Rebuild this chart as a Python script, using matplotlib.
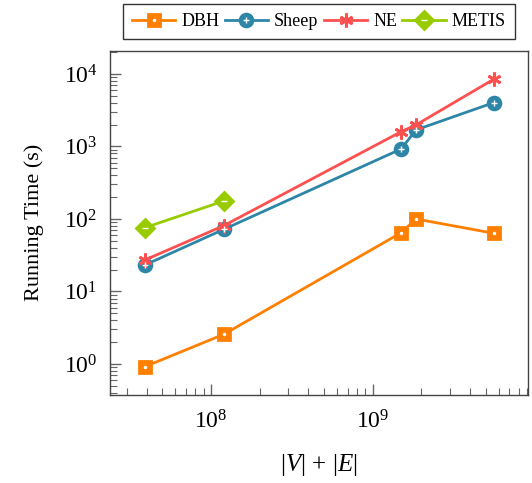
import matplotlib
matplotlib.use("Agg")
import matplotlib.pyplot as plt
from matplotlib.legend_handler import HandlerTuple

plt.rcParams['font.family'] = ['Liberation Serif', 'DejaVu Serif']
plt.rcParams['mathtext.fontset'] = 'custom'
plt.rcParams['mathtext.rm'] = 'Liberation Serif'
plt.rcParams['mathtext.it'] = 'Liberation Serif:italic'
plt.rcParams['mathtext.bf'] = 'Liberation Serif:bold'

# Data
dbh_x = [3.9e7, 1.2e8, 1.5e9, 1.85e9, 5.6e9]
dbh_y = [0.92, 2.57, 64.7, 100, 63.5]
sheep_x = [3.9e7, 1.2e8, 1.5e9, 1.85e9, 5.6e9]
sheep_y = [23.2, 72, 924, 1690, 4020]
ne_x = [3.9e7, 1.2e8, 1.5e9, 1.85e9, 5.6e9]
ne_y = [27.2, 81, 1600, 1980, 8450]
metis_x = [3.9e7, 1.2e8]
metis_y = [75.9, 177]

labels = ['DBH', 'Sheep', 'NE', 'METIS']
colors = ['#ff8000', '#2e86a6', '#ff5050', '#99cc00']

fig = plt.figure(figsize=(5.32, 4.83), dpi=100)
ax = fig.add_axes([110/532, 1-395/483, (528-110)/532, (395-50.7)/483])

series = [(dbh_x, dbh_y, 's', 8.5, '.', 3),
          (sheep_x, sheep_y, 'o', 9, '+', 5),
          (ne_x, ne_y, (6, 2, 0), 10, None, 0),
          (metis_x, metis_y, 'D', 9, '_', 5)]

handles = []
for (x, y, m, ms, im, ims), c, lab in zip(series, colors, labels):
    ln, = ax.plot(x, y, color=c, lw=2, marker=m, markersize=ms,
                  markeredgewidth=2 if m != 'o' else 2.2,
                  markerfacecolor=c if m != (6, 2, 0) else 'none',
                  markeredgecolor=c, zorder=3)
    if im is not None:
        ov, = ax.plot(x, y, ls='none', marker=im, markersize=ims,
                      color='white', markeredgewidth=1, zorder=4)
        handles.append((ln, ov))
    else:
        handles.append(ln)

ax.set_xscale('log')
ax.set_yscale('log')
ax.set_xlim(10**7.375, 10**9.96)
ax.set_ylim(0.374, 10**4.32)

for s in ax.spines.values():
    s.set_color('#444444')
    s.set_linewidth(1.0)

ax.tick_params(which='both', direction='in', top=False, right=False,
               colors='#666666', labelcolor='black', labelsize=17)
ax.tick_params(which='major', length=8, width=1, pad=9)
ax.tick_params(which='minor', length=5, width=0.8)
ax.tick_params(axis='x', which='major', pad=11)

ax.set_ylabel('Running Time (s)', fontsize=16, labelpad=14)
ax.set_xlabel(r'$|V|\,+\,|E|$', fontsize=18, labelpad=13)

leg = fig.legend(handles, labels, loc='upper center', ncol=4,
                 bbox_to_anchor=(319/532, 1-4/483), fontsize=13,
                 frameon=True, fancybox=False, edgecolor='black',
                 handlelength=2.4, handletextpad=0.33, columnspacing=0.3,
                 borderpad=0.5, borderaxespad=0,
                 handler_map={tuple: HandlerTuple(ndivide=1)})
leg.get_frame().set_linewidth(1.0)

fig.savefig('out.png', dpi=100)
